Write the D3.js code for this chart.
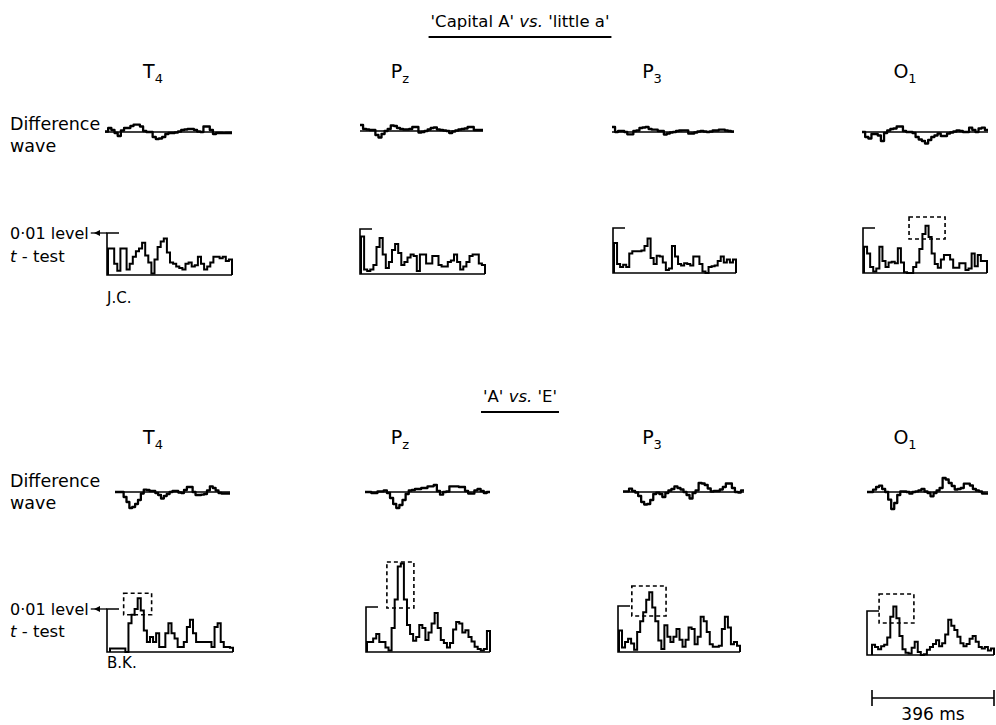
<!DOCTYPE html>
<html>
<head>
<meta charset="utf-8">
<script src="https://cdn.jsdelivr.net/npm/d3@7"></script>
<style>
  html, body { margin: 0; padding: 0; background: #fff; }
  svg { display: block; }
  text { font-family: "DejaVu Sans", "Liberation Sans", sans-serif; fill: #000; }
</style>
</head>
<body>
<svg id="chart" width="996" height="725"></svg>
<script>
// ---------------- DATA ----------------
const epochMs = 396;                       // analysis epoch (ms)
const tCrit = 3.0;                         // t value of the 0.01 level
const electrodes = [["T","4"],["P","z"],["P","3"],["O","1"]];
const comparisons = ["'Capital A' vs. 'little a'", "'A' vs. 'E'"];
const subjects = ["J.C.", "B.K."];
const scaleLabel = "396 ms";

// Subject J.C. – difference waves (µV-like units, + up)
const jcDiffT4 = [0.5,4,2,-1,-4,1.5,4,4,6,7.3,7.3,5.5,1,0,0,-5,-7,-6.5,-5,-2,-1,-1,-0.5,0.5,2,2.5,3,3,2,0.5,0,5.5,5.5,2,-2,-1,-1,-1.2,-1,-1];
const jcDiffPz = [6,2,1.5,1,1,-4,-6.5,-3,0,2,5.5,5,3,2,1.5,1.5,2,4,4,-1.5,-1,0,1.5,3,3.5,1.5,1,0.5,0,-2,-0.5,0.5,1.5,2,2.5,4,4,1,1,1];
const jcDiffP3 = [5,0,1,1,0,-2.3,-2.3,1,1.5,4,4.5,5,3,2.3,2.3,1,1,-2.5,-1.5,-0.5,0,1,1.5,1.7,1.7,-1.7,-1.5,-0.5,0.5,1,0.5,0,0.5,1.5,1.5,2.3,2.3,1.5,1,0.5];
const jcDiffO1 = [0,-5,-6.5,-2,-2,-3.5,-9,-1,1.5,3,3.5,5.5,5.5,1,0,0,-1,-5,-7.5,-9,-11.5,-8,-5,-3.5,-1.5,-4,-4,-1.5,-0.5,0.5,1.5,1,0,0,4.3,2,0,3.5,4.3,2];
// Subject J.C. – t-test values
const jcTT4 = [1.9,1.9,0.8,0.3,1.9,1.9,0.4,0.8,1.3,1.7,1.9,2.3,1.4,0.9,0.1,1.1,2.0,2.4,2.6,1.6,0.9,0.8,0.6,0.5,0.4,0.8,0.9,0.6,0.7,1.3,0.8,0.4,0.6,0.9,1.3,1.3,1.2,1.3,1.0,1.1];
const jcTPz = [2.5,0.3,0.2,0.3,0.6,1.8,2.4,1.3,0.4,0.8,1.6,2.0,1.4,0.6,0.8,1.1,1.3,1.2,0.2,1.3,1.3,0.7,0.7,1.2,1.2,0.6,0.5,0.5,0.8,0.9,1.3,0.8,0.3,0.5,0.8,1.2,1.3,1.3,0.7,0.6];
const jcTP3 = [2.0,0.6,0.4,0.55,0.4,1.3,1.45,1.45,1.45,1.5,1.8,2.3,1.0,0.6,1.15,1.1,0.7,0.2,0.3,1.8,1.1,0.6,0.5,0.65,0.6,0.5,1.1,1.1,0.6,0.1,0.0,0.4,0.45,0.5,0.8,1.1,0.7,0.9,0.7,0.9];
const jcTO1 = [1.75,1.3,0.4,0.1,0.3,1.75,0.8,0.4,0.7,0.75,0.65,1.65,0.7,0.05,0,0,0.4,0.7,1.6,2.6,3.15,2.4,1.3,0.6,0.35,0.9,1.2,1.2,0.9,0.35,0.35,0.65,0.65,0.2,0.3,1.3,0.45,1.2,0.8,0.8];

// Subject B.K. – difference waves
const bkDiffT4 = [0,0,0,-5,-10,-16,-15,-12,-8,-1.5,2.3,2,1,1,-1,-3,-6.5,-4,-2,0,1,1,-0.5,-1,2,5,5,0,-3,-3,-2.7,-2,1.7,5.7,4,1.5,-1,-1.5,-1.5,-1.5];
const bkDiffPz = [0,0,-1,-1,0.7,0.7,1.7,-1,-6,-12,-16,-13,-8,-2,1.5,2,3,3,4,4,5.7,5.7,7,1,-2.7,0,0.5,5.7,5.7,5.7,5,5,1,-1.5,-1.7,1.7,3,1,-1,0];
const bkDiffP3 = [0.7,0.7,3.3,1,-0.5,-4,-10,-12.5,-12,-8,-2,-0.7,-2,-5,-1,1.5,3,5.7,4,2.5,0,-3,-6.5,-1,1.7,9,8.5,7,3.5,0.5,1,1,2.5,5,8.5,8.5,4,0,-0.5,1.7];
const bkDiffO1 = [0,0,2.3,5,6.3,3,0,-7.7,-17,-11,-3,0.7,0.5,0,-1.7,0,0.7,1.7,3,0.5,-1,-4.3,-1,1.5,4,14,12.5,9,6,2.5,3,4,8.3,8.3,6.5,3,1.5,0.7,-1.5,-1.7];
// Subject B.K. – t-test values
const bkTT4 = [0.25,0.25,0.25,0.25,0.25,0,2.0,2.6,3.0,3.75,2.9,1.5,0.7,1.05,0.7,1.3,0.35,0.35,1.3,2.0,1.3,0.95,0.35,0.35,0.7,1.75,2.25,1.3,0.7,0.7,0.7,0.7,0.7,0.35,1.75,2.0,0.7,0.35,0.35,0.3];
const bkTPz = [0.67,0.67,0.9,1.2,0.67,0.67,0.3,0.1,1.6,3.5,5.7,5.9,3.5,1.8,1.2,0.75,1.0,1.8,1.6,0.8,1.3,1.9,2.6,1.6,0.8,0.6,0.3,0.6,1.5,2.0,1.9,1.3,1.45,1.0,0.7,0.35,0.2,0.1,0.2,1.4];
const bkTP3 = [1.4,0.3,0.65,0.87,0.55,0.15,1.3,2.0,2.6,3.4,3.9,2.9,2.0,0.75,0.2,1.75,1.0,0.65,1.0,1.5,0.8,0.35,0.8,1.6,1.5,0.5,1.0,2.3,2.0,1.3,0.5,0.35,0.35,0.4,1.5,2.3,1.6,0.5,0.65,0.4];
const bkTO1 = [0.7,0.55,0.4,0.6,0.7,1.2,2.6,3.3,2.5,1.3,0.4,0.15,0.1,0.5,0.9,0.2,0,0.05,0.35,0.55,0.75,1.0,0.6,0.8,1.4,2.4,2.0,1.7,1.25,0.8,0.6,0.75,1.1,1.3,0.9,0.55,0.45,0.55,0.3,0.45];

// Significant-region boxes: [panel index, ms start, ms end, t low, t high]
const jcBoxes = [[3,145,261,2.27,3.73]];
const bkBoxes = [[0,44,134,2.6,4.1],[1,64,151,2.93,6.0],[2,42,154,2.35,4.3],[3,23,136,2.18,4.16]];

// ---------------- LAYOUT ----------------
const rows = [
  { title: comparisons[0], titleY: 27, ulY: 37, elecY: 78, subj: subjects[0], subjY: 303,
    diff: [jcDiffT4, jcDiffPz, jcDiffP3, jcDiffO1], t: [jcTT4, jcTPz, jcTP3, jcTO1], boxes: jcBoxes,
    dx0: [105,360,612,862], dx1: [232,483,734,988], dBase: [132,131,132,132],
    ax: [107,360,613,863], tx0: [108,361,614,864], tx1: [232,485,736,987],
    tBase: [275,274,273,273], tLev: [233,229,228,228],
    diffLab: [130,152], tLab: [239,262] },
  { title: comparisons[1], titleY: 402, ulY: 412, elecY: 444, subj: subjects[1], subjY: 668,
    diff: [bkDiffT4, bkDiffPz, bkDiffP3, bkDiffO1], t: [bkTT4, bkTPz, bkTP3, bkTO1], boxes: bkBoxes,
    dx0: [115,365,623,867], dx1: [230,490,744,988], dBase: [492,492,492,492],
    ax: [107,366,618,867], tx0: [110,367,619,872], tx1: [233,490,740,994],
    tBase: [652,652,652,655], tLev: [609,607,606,611],
    diffLab: [487,509], tLab: [615,637] }
];
const elecX = [153, 400, 652, 905];
const titleX = 520;

const svg = d3.select("#chart");

function stepPoints(vals) {
  const n = vals.length, dt = epochMs / n;
  const pts = [[0, 0]];
  vals.forEach((v, i) => pts.push([i * dt, v]));
  pts.push([epochMs, vals[n - 1]]);
  pts.push([epochMs, 0]);
  return pts;
}
function wavePoints(vals) {
  const n = vals.length, dt = epochMs / n;
  const pts = vals.map((v, i) => [i * dt, v]);
  pts.push([epochMs, vals[n - 1]]);
  return pts;
}

rows.forEach(r => {
  // title with italic "vs."
  const parts = r.title.split(" vs. ");
  const tt = svg.append("text").attr("x", titleX).attr("y", r.titleY)
    .attr("text-anchor", "middle").attr("font-size", 16.5);
  tt.append("tspan").text(parts[0] + " ");
  tt.append("tspan").attr("font-style", "italic").text("vs.");
  tt.append("tspan").text(" " + parts[1]);
  const bb = tt.node().getBBox();
  svg.append("line").attr("x1", bb.x - 2).attr("x2", bb.x + bb.width + 2)
    .attr("y1", r.ulY).attr("y2", r.ulY).attr("stroke", "#000").attr("stroke-width", 1.8);

  // electrode labels
  electrodes.forEach((e, i) => {
    const t = svg.append("text").attr("x", elecX[i]).attr("y", r.elecY)
      .attr("text-anchor", "middle").attr("font-size", 19);
    t.append("tspan").text(e[0]);
    t.append("tspan").attr("font-size", 13).attr("dy", 5).text(e[1]);
  });

  // row labels
  svg.append("text").attr("x", 10).attr("y", r.diffLab[0]).attr("font-size", 17.5).text("Difference");
  svg.append("text").attr("x", 10).attr("y", r.diffLab[1]).attr("font-size", 17.5).text("wave");
  const lv = svg.append("text").attr("x", 10).attr("y", r.tLab[0]).attr("font-size", 16).text("0·01 level");
  const tl = svg.append("text").attr("x", 10).attr("y", r.tLab[1]).attr("font-size", 16.5);
  tl.append("tspan").attr("font-style", "italic").text("t");
  tl.append("tspan").text(" - test");
  svg.append("text").attr("x", 107).attr("y", r.subjY).attr("font-size", 15).text(r.subj);

  const lvEnd = lv.node().getBBox();
  // arrow from label to level line
  const ly = r.tLev[0];
  svg.append("line").attr("x1", lvEnd.x + lvEnd.width + 2).attr("x2", r.ax[0])
    .attr("y1", ly).attr("y2", ly).attr("stroke", "#000").attr("stroke-width", 1.3);
  const ahx = r.ax[0] - 9;
  svg.append("path").attr("d", `M${ahx - 4},${ly} L${ahx + 2},${ly - 3} L${ahx + 2},${ly + 3} Z`).attr("fill", "#000");

  for (let i = 0; i < 4; i++) {
    // difference wave
    const xd = d3.scaleLinear().domain([0, epochMs]).range([r.dx0[i], r.dx1[i]]);
    const yd = d3.scaleLinear().domain([-20, 20]).range([r.dBase[i] + 20, r.dBase[i] - 20]);
    svg.append("line").attr("x1", xd(0)).attr("x2", xd(epochMs)).attr("y1", yd(0)).attr("y2", yd(0))
      .attr("stroke", "#000").attr("stroke-width", 1.3);
    svg.append("path").datum(wavePoints(r.diff[i]))
      .attr("d", d3.line().x(d => xd(d[0])).y(d => yd(d[1])).curve(d3.curveStepAfter))
      .attr("fill", "none").attr("stroke", "#000").attr("stroke-width", 2.3).attr("stroke-linejoin", "round");

    // t-test histogram
    const xt = d3.scaleLinear().domain([0, epochMs]).range([r.tx0[i], r.tx1[i]]);
    const yt = d3.scaleLinear().domain([0, tCrit]).range([r.tBase[i], r.tLev[i]]);
    svg.append("path")
      .attr("d", `M${r.ax[i] + 12},${yt(tCrit)} H${r.ax[i]} V${yt(0)} H${xt(epochMs)}`)
      .attr("fill", "none").attr("stroke", "#000").attr("stroke-width", 1.6);
    svg.append("path").datum(stepPoints(r.t[i]))
      .attr("d", d3.line().x(d => xt(d[0])).y(d => yt(d[1])).curve(d3.curveStepAfter))
      .attr("fill", "none").attr("stroke", "#000").attr("stroke-width", 2).attr("stroke-linejoin", "miter");
  }

  // significance boxes
  r.boxes.forEach(b => {
    const i = b[0];
    const xt = d3.scaleLinear().domain([0, epochMs]).range([r.tx0[i], r.tx1[i]]);
    const yt = d3.scaleLinear().domain([0, tCrit]).range([r.tBase[i], r.tLev[i]]);
    svg.append("rect").attr("x", xt(b[1])).attr("y", yt(b[4]))
      .attr("width", xt(b[2]) - xt(b[1])).attr("height", yt(b[3]) - yt(b[4]))
      .attr("fill", "none").attr("stroke", "#000").attr("stroke-width", 1.6).attr("stroke-dasharray", "4,3");
  });
});

// scale bar (396 ms) under last panel
{
  const r = rows[1];
  const xs = d3.scaleLinear().domain([0, epochMs]).range([r.tx0[3], r.tx1[3]]);
  const y = 698;
  svg.append("path").attr("d", `M${xs(0)},${y - 8} V${y + 8} M${xs(0)},${y} H${xs(epochMs)} M${xs(epochMs)},${y - 8} V${y + 8}`)
    .attr("fill", "none").attr("stroke", "#000").attr("stroke-width", 1.6);
  svg.append("text").attr("x", xs(epochMs / 2)).attr("y", 720).attr("text-anchor", "middle")
    .attr("font-size", 17).text(scaleLabel);
}
</script>
</body>
</html>
